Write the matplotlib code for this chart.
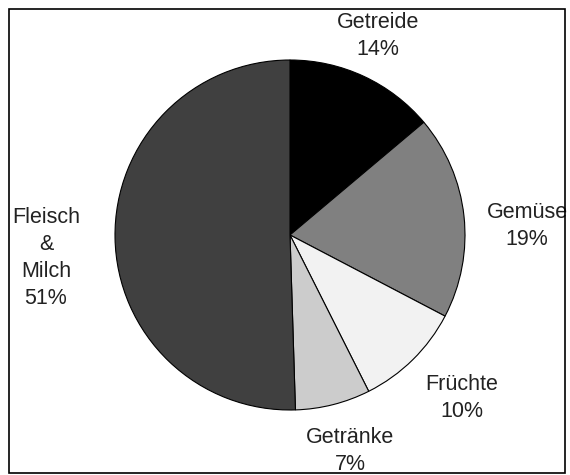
import matplotlib
matplotlib.use('Agg')
import matplotlib.pyplot as plt
import matplotlib.patches as patch

# shares in percent, clockwise from 12 o'clock
categories = ['Getreide', 'Gemüse', 'Früchte', 'Getränke', 'Fleisch\n&\nMilch']
shares = [14, 19, 10, 7, 51]
colors = ['#000000', '#808080', '#f2f2f2', '#cccccc', '#404040']

# label centres in pixels (layout only)
label_px = [(378, 36), (527, 226), (462, 398), (350, 451), (46, 258)]

W, H = 570, 475
CX, CY, R = 290, 235, 175

fig = plt.figure(figsize=(W / 100, H / 100), dpi=100)
ax = fig.add_axes([0, 0, 1, 1])

ax.pie(shares, colors=colors, startangle=90, counterclock=False, radius=1.0,
       wedgeprops=dict(edgecolor='black', linewidth=0.8))

ax.set_xlim(-CX / R, (W - CX) / R)
ax.set_ylim((CY - H) / R, CY / R)
ax.set_aspect('equal')
ax.axis('off')

for name, val, (px, py) in zip(categories, shares, label_px):
    ax.text((px - CX) / R, (CY - py) / R, '%s\n%d%%' % (name, val),
            ha='center', va='center', fontsize=15.5, color='#222222',
            family='Liberation Sans', linespacing=1.37)

# outer frame
fig.patches.append(patch.Rectangle((9 / W, 2 / H), 556 / W, 464 / H,
                                   transform=fig.transFigure, fill=False,
                                   edgecolor='black', linewidth=1.2))

fig.savefig('out.png', dpi=100)
